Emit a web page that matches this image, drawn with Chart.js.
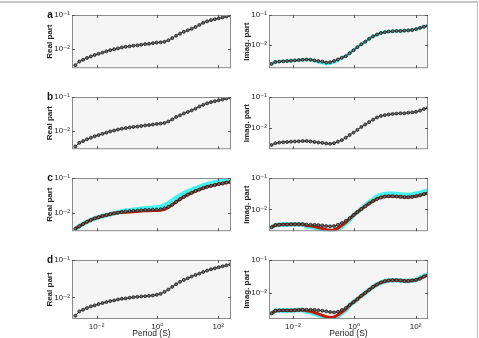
<!DOCTYPE html>
<html>
<head>
<meta charset="utf-8">
<script src="https://cdn.jsdelivr.net/npm/chart.js@4"></script>
<style>
  body { margin: 0; background: #fff; overflow: hidden; }
  #fig { position: relative; width: 479px; height: 338px; }
  #fig canvas { position: absolute; }
  .edge { position: absolute; left: 0; top: 1px; width: 477px; height: 345px; border-top: 2px solid #c6c6c6; border-right: 1px solid #bcbcbc; }
</style>
</head>
<body>
<div id="fig"><div class="edge"></div></div>
<script>
// periods (s), shared by every panel
const periods = [0.0020, 0.00268, 0.00359, 0.00481, 0.00646, 0.00866, 0.0116, 0.0156, 0.0209, 0.0280,
  0.0376, 0.0504, 0.0676, 0.0907, 0.122, 0.163, 0.219, 0.293, 0.394, 0.528,
  0.708, 0.950, 1.27, 1.71, 2.29, 3.07, 4.12, 5.53, 7.41, 9.94,
  13.3, 17.9, 24.0, 32.2, 43.2, 57.9, 77.6, 104, 140, 187, 251];

const xTicks = [0.01, 1, 100];
const yTicks = [0.01, 0.1];

// panel a
const realA = [0.00334, 0.00427, 0.00482, 0.00544, 0.00603, 0.00667, 0.00723, 0.00785, 0.00851, 0.00924,
  0.00982, 0.0104, 0.0111, 0.0116, 0.0120, 0.0125, 0.0128, 0.0133, 0.0139, 0.0142,
  0.0148, 0.0154, 0.0157, 0.0163, 0.0181, 0.0209, 0.0246, 0.0283, 0.0320, 0.0354,
  0.0392, 0.0443, 0.0511, 0.0589, 0.0652, 0.0708, 0.0752, 0.0800, 0.0849, 0.0903, 0.0960];
const imagA = [0.00234, 0.00275, 0.00282, 0.00288, 0.00295, 0.00302, 0.00309, 0.00316, 0.00324, 0.00331,
  0.00324, 0.00309, 0.00295, 0.00282, 0.00263, 0.00269, 0.00295, 0.00331, 0.00380, 0.00427,
  0.00537, 0.00676, 0.00851, 0.0107, 0.0129, 0.0162, 0.0195, 0.0224, 0.0251, 0.0269,
  0.0282, 0.0288, 0.0295, 0.0295, 0.0302, 0.0309, 0.0316, 0.0339, 0.0372, 0.0407, 0.0437];
const imagACyan = [0.00234, 0.00275, 0.00282, 0.00288, 0.00295, 0.00302, 0.00309, 0.00316, 0.00324, 0.00331,
  0.00324, 0.00309, 0.00268, 0.00257, 0.00240, 0.00245, 0.00269, 0.00302, 0.00380, 0.00427,
  0.00537, 0.00676, 0.00851, 0.0107, 0.0129, 0.0162, 0.0195, 0.0224, 0.0251, 0.0269,
  0.0282, 0.0288, 0.0295, 0.0295, 0.0302, 0.0309, 0.0316, 0.0339, 0.0372, 0.0407, 0.0437];

// panel b
const realB = [0.00354, 0.00453, 0.00511, 0.00577, 0.00639, 0.00707, 0.00766, 0.00832, 0.00902, 0.00979,
  0.0104, 0.0111, 0.0118, 0.0123, 0.0128, 0.0133, 0.0136, 0.0141, 0.0147, 0.0150,
  0.0156, 0.0163, 0.0166, 0.0173, 0.0192, 0.0221, 0.0260, 0.0291, 0.0330, 0.0365,
  0.0404, 0.0456, 0.0526, 0.0589, 0.0652, 0.0708, 0.0752, 0.0800, 0.0849, 0.0903, 0.0960];
const imagB = [0.00286, 0.00327, 0.00342, 0.00350, 0.00357, 0.00366, 0.00370, 0.00374, 0.00383, 0.00383,
  0.00374, 0.00357, 0.00346, 0.00334, 0.00320, 0.00313, 0.00327, 0.00366, 0.00409, 0.00489,
  0.00598, 0.00715, 0.00875, 0.0109, 0.0131, 0.0156, 0.0187, 0.0219, 0.0245, 0.0261,
  0.0274, 0.0286, 0.0292, 0.0299, 0.0299, 0.0313, 0.0320, 0.0334, 0.0366, 0.0409, 0.0447];

// panel c
const realC = [0.00343, 0.00403, 0.00473, 0.00546, 0.00615, 0.00681, 0.00738, 0.00801, 0.00851, 0.00904,
  0.0096, 0.0100, 0.0104, 0.0108, 0.0111, 0.0113, 0.0115, 0.0117, 0.0120, 0.0120,
  0.0122, 0.0122, 0.0125, 0.0133, 0.0147, 0.0169, 0.0203, 0.0243, 0.0286, 0.0330,
  0.0372, 0.0420, 0.0464, 0.0514, 0.0557, 0.0592, 0.0628, 0.0668, 0.0695, 0.0738, 0.0769];
const realCRed = [0.00343, 0.00403, 0.00473, 0.00546, 0.00615, 0.00681, 0.00738, 0.00801, 0.00851, 0.00904,
  0.0096, 0.0100, 0.0104, 0.0102, 0.0104, 0.0106, 0.0108, 0.0111, 0.0113, 0.0113,
  0.0115, 0.0115, 0.0117, 0.0125, 0.0141, 0.0169, 0.0203, 0.0243, 0.0286, 0.0330,
  0.0372, 0.0420, 0.0464, 0.0514, 0.0557, 0.0592, 0.0628, 0.0668, 0.0695, 0.0738, 0.0769];
const realCCyan = [0.00343, 0.00403, 0.00473, 0.00546, 0.00615, 0.00681, 0.00738, 0.00801, 0.00851, 0.00904,
  0.0096, 0.0102, 0.0108, 0.0115, 0.0117, 0.0122, 0.0125, 0.0130, 0.0133, 0.0136,
  0.0138, 0.0141, 0.0147, 0.0163, 0.0187, 0.0224, 0.0269, 0.0316, 0.0364, 0.0411,
  0.0455, 0.0514, 0.0557, 0.0615, 0.0668, 0.0710, 0.0754, 0.0801, 0.0834, 0.0886, 0.0923];
const imagC = [0.00267, 0.00313, 0.00320, 0.00327, 0.00327, 0.00331, 0.00331, 0.00331, 0.00331, 0.00327,
  0.00324, 0.00320, 0.00313, 0.00306, 0.00292, 0.00286, 0.00292, 0.00320, 0.00366, 0.00428,
  0.00523, 0.00655, 0.00818, 0.0102, 0.0125, 0.0153, 0.0183, 0.0214, 0.0239, 0.0256,
  0.0261, 0.0261, 0.0256, 0.0250, 0.0245, 0.0245, 0.0250, 0.0261, 0.0280, 0.0306, 0.0327];
const imagCRed = [0.00267, 0.00313, 0.00320, 0.00327, 0.00327, 0.00331, 0.00331, 0.00331, 0.00331, 0.00306,
  0.00296, 0.00280, 0.00261, 0.00244, 0.00224, 0.00214, 0.00219, 0.00250, 0.00306, 0.00383,
  0.00500, 0.00655, 0.00818, 0.0102, 0.0125, 0.0153, 0.0183, 0.0214, 0.0239, 0.0256,
  0.0261, 0.0261, 0.0256, 0.0250, 0.0245, 0.0245, 0.0250, 0.0261, 0.0280, 0.0306, 0.0327];
const imagCCyan = [0.00267, 0.00313, 0.00320, 0.00327, 0.00327, 0.00331, 0.00331, 0.00331, 0.00331, 0.00286,
  0.00277, 0.00261, 0.00244, 0.00229, 0.00209, 0.00200, 0.00205, 0.00234, 0.00286, 0.00357,
  0.00468, 0.00655, 0.00818, 0.0102, 0.0135, 0.0168, 0.0205, 0.0256, 0.0286, 0.0306,
  0.0313, 0.0313, 0.0306, 0.0299, 0.0292, 0.0292, 0.0299, 0.0313, 0.0334, 0.0366, 0.0391];

// panel d
const realD = [0.00326, 0.00425, 0.00471, 0.00521, 0.00577, 0.00614, 0.00665, 0.00708, 0.00752, 0.0080,
  0.00832, 0.00885, 0.00922, 0.0094, 0.0098, 0.0102, 0.0104, 0.0106, 0.0108, 0.0111,
  0.0113, 0.0118, 0.0125, 0.0141, 0.0163, 0.0192, 0.0226, 0.0261, 0.0294, 0.0326,
  0.0361, 0.0400, 0.0434, 0.0480, 0.0521, 0.0565, 0.0601, 0.0638, 0.0679, 0.0722, 0.0767];
const imagD = [0.00245, 0.00295, 0.00302, 0.00302, 0.00302, 0.00302, 0.00305, 0.00309, 0.00313, 0.00316,
  0.00316, 0.00313, 0.00305, 0.00295, 0.00282, 0.00269, 0.00263, 0.00275, 0.00309, 0.00355,
  0.00437, 0.00537, 0.00661, 0.00832, 0.0102, 0.0126, 0.0155, 0.0182, 0.0209, 0.0229,
  0.0240, 0.0245, 0.0245, 0.0240, 0.0234, 0.0234, 0.0240, 0.0251, 0.0275, 0.0316, 0.0347];
const imagDRed = [0.00245, 0.00295, 0.00302, 0.00302, 0.00302, 0.00302, 0.00305, 0.00309, 0.00313, 0.00295,
  0.00282, 0.00260, 0.00237, 0.00214, 0.00195, 0.00186, 0.00191, 0.00219, 0.00269, 0.00331,
  0.00437, 0.00537, 0.00661, 0.00832, 0.0102, 0.0126, 0.0155, 0.0182, 0.0209, 0.0229,
  0.0240, 0.0245, 0.0245, 0.0240, 0.0234, 0.0234, 0.0240, 0.0251, 0.0275, 0.0316, 0.0347];
const imagDCyan = [0.00245, 0.00295, 0.00302, 0.00302, 0.00302, 0.00302, 0.00305, 0.00309, 0.00313, 0.00275,
  0.00263, 0.00243, 0.00221, 0.00200, 0.00182, 0.00174, 0.00178, 0.00204, 0.00251, 0.00309,
  0.00437, 0.00537, 0.00661, 0.00832, 0.0102, 0.0126, 0.0155, 0.0182, 0.0209, 0.0229,
  0.0240, 0.0245, 0.0245, 0.0240, 0.0234, 0.0234, 0.0240, 0.0251, 0.0290, 0.0335, 0.0370];

const fam = "'Liberation Sans', Arial, 'DejaVu Sans', sans-serif";
const sup = { '-': '\u207B', '0': '\u2070', '1': '\u00B9', '2': '\u00B2' };
const powLabel = v => '10' + String(Math.round(Math.log10(v))).split('').map(c => sup[c]).join('');

// which arrays go in which panel, and where the plot box sits
const panels = [
  { letter: 'a', side: 'L', top: 15, h: 59, ymin: 0.00272, black: realA },
  { letter: '', side: 'R', top: 15, h: 59, ymin: 0.0017, black: imagA, cyan: imagACyan, cyanW: 3 },
  { letter: 'b', side: 'L', top: 97, h: 58, ymin: 0.00295, black: realB },
  { letter: '', side: 'R', top: 97, h: 58, ymin: 0.00209, black: imagB },
  { letter: 'c', side: 'L', top: 178, h: 59, ymin: 0.00292, black: realC, red: realCRed, cyan: realCCyan },
  { letter: '', side: 'R', top: 178, h: 59, ymin: 0.0020, black: imagC, red: imagCRed, cyan: imagCCyan },
  { letter: 'd', side: 'L', top: 260, h: 59, ymin: 0.00266, black: realD, bottom: true },
  { letter: '', side: 'R', top: 260, h: 59, ymin: 0.00166, black: imagD, red: imagDRed, cyan: imagDCyan, bottom: true }
];

// light plot box, grey frame and inward ticks like the original figure
const framePlugin = {
  id: 'frame',
  beforeDatasetsDraw(chart) {
    const a = chart.chartArea, ctx = chart.ctx;
    ctx.save();
    ctx.fillStyle = '#f5f5f5';
    ctx.fillRect(a.left, a.top, a.right - a.left, a.bottom - a.top);
    ctx.restore();
  },
  afterDatasetsDraw(chart, args, opts) {
    const a = chart.chartArea, ctx = chart.ctx;
    const xs = chart.scales.x, ys = chart.scales.y;
    ctx.save();
    ctx.strokeStyle = '#8c8c8c';
    ctx.lineWidth = 1;
    ctx.strokeRect(a.left + 0.5, a.top + 0.5, a.right - a.left - 1, a.bottom - a.top - 1);
    ctx.strokeStyle = '#555';
    ctx.beginPath();
    xTicks.forEach(v => {
      const px = Math.round(xs.getPixelForValue(v)) + 0.5;
      ctx.moveTo(px, a.bottom); ctx.lineTo(px, a.bottom - 3);
      ctx.moveTo(px, a.top); ctx.lineTo(px, a.top + 3);
    });
    yTicks.forEach(v => {
      const py = Math.round(ys.getPixelForValue(v)) + 0.5;
      ctx.moveTo(a.left, py); ctx.lineTo(a.left + 3, py);
      ctx.moveTo(a.right, py); ctx.lineTo(a.right - 3, py);
    });
    ctx.stroke();
    if (opts.letter) {
      ctx.font = 'bold 10px ' + fam;
      ctx.fillStyle = '#111';
      ctx.textAlign = 'center';
      ctx.textBaseline = 'middle';
      ctx.fillText(opts.letter, a.left - 22, a.top);
    }
    ctx.restore();
  }
};

const pts = vals => periods.map((p, i) => ({ x: p, y: vals[i] }));
const fig = document.getElementById('fig');

panels.forEach(p => {
  const left = p.side === 'L';
  const padTop = 8, axisH = p.bottom ? 20 : 0, padBottom = p.bottom ? 0 : 1;
  const cv = document.createElement('canvas');
  const w = left ? 240 : 239;
  const h = padTop + p.h + axisH + padBottom;
  cv.width = w; cv.height = h;
  cv.style.left = (left ? 0 : 240) + 'px';
  cv.style.top = (p.top - padTop) + 'px';
  cv.style.width = w + 'px'; cv.style.height = h + 'px';
  fig.appendChild(cv);

  const datasets = [{
    data: pts(p.black),
    borderColor: '#2a2a2a', borderWidth: 1,
    pointRadius: 1.5, pointBackgroundColor: '#6c6c6c',
    pointBorderColor: '#1c1c1c', pointBorderWidth: 0.8
  }];
  if (p.red) datasets.push({ data: pts(p.red), borderColor: '#c41a00', borderWidth: 3, pointRadius: 0 });
  if (p.cyan) datasets.push({ data: pts(p.cyan), borderColor: '#44f0ec', borderWidth: p.cyanW || 4.5, pointRadius: 0 });

  new Chart(cv, {
    type: 'line',
    data: { datasets },
    plugins: [framePlugin],
    options: {
      responsive: false,
      animation: false,
      devicePixelRatio: 1,
      layout: { padding: left ? { left: 45, right: 9, top: padTop, bottom: padBottom }
                              : { left: 2, right: 51, top: padTop, bottom: padBottom } },
      plugins: { legend: { display: false }, tooltip: { enabled: false }, frame: { letter: p.letter } },
      scales: {
        x: {
          type: 'logarithmic',
          min: left ? 0.00155 : 0.00166,
          max: left ? 263 : 255,
          display: !!p.bottom,
          afterBuildTicks: s => { s.ticks = xTicks.map(v => ({ value: v })); },
          afterFit: s => { s.height = axisH; },
          grid: { display: false, drawTicks: false },
          border: { display: false },
          ticks: { autoSkip: false, maxRotation: 0, padding: 3, color: '#222',
                   font: { size: 8, family: fam }, callback: v => powLabel(v) },
          title: { display: true, text: 'Period (S)', color: '#222',
                   font: { size: 8.5, family: fam }, padding: 0 }
        },
        y: {
          type: 'logarithmic',
          min: p.ymin,
          max: 0.1,
          afterBuildTicks: s => { s.ticks = yTicks.map(v => ({ value: v })); },
          afterFit: s => { s.width = 27; },
          grid: { display: false, drawTicks: false },
          border: { display: false },
          ticks: { padding: 2, color: '#222', font: { size: 8, family: fam },
                   callback: v => powLabel(v) },
          title: { display: true, text: left ? 'Real part' : 'Imag. part', color: '#222',
                   font: { size: 8, weight: 'bold', family: fam }, padding: 0 }
        }
      }
    }
  });
});
</script>
</body>
</html>
